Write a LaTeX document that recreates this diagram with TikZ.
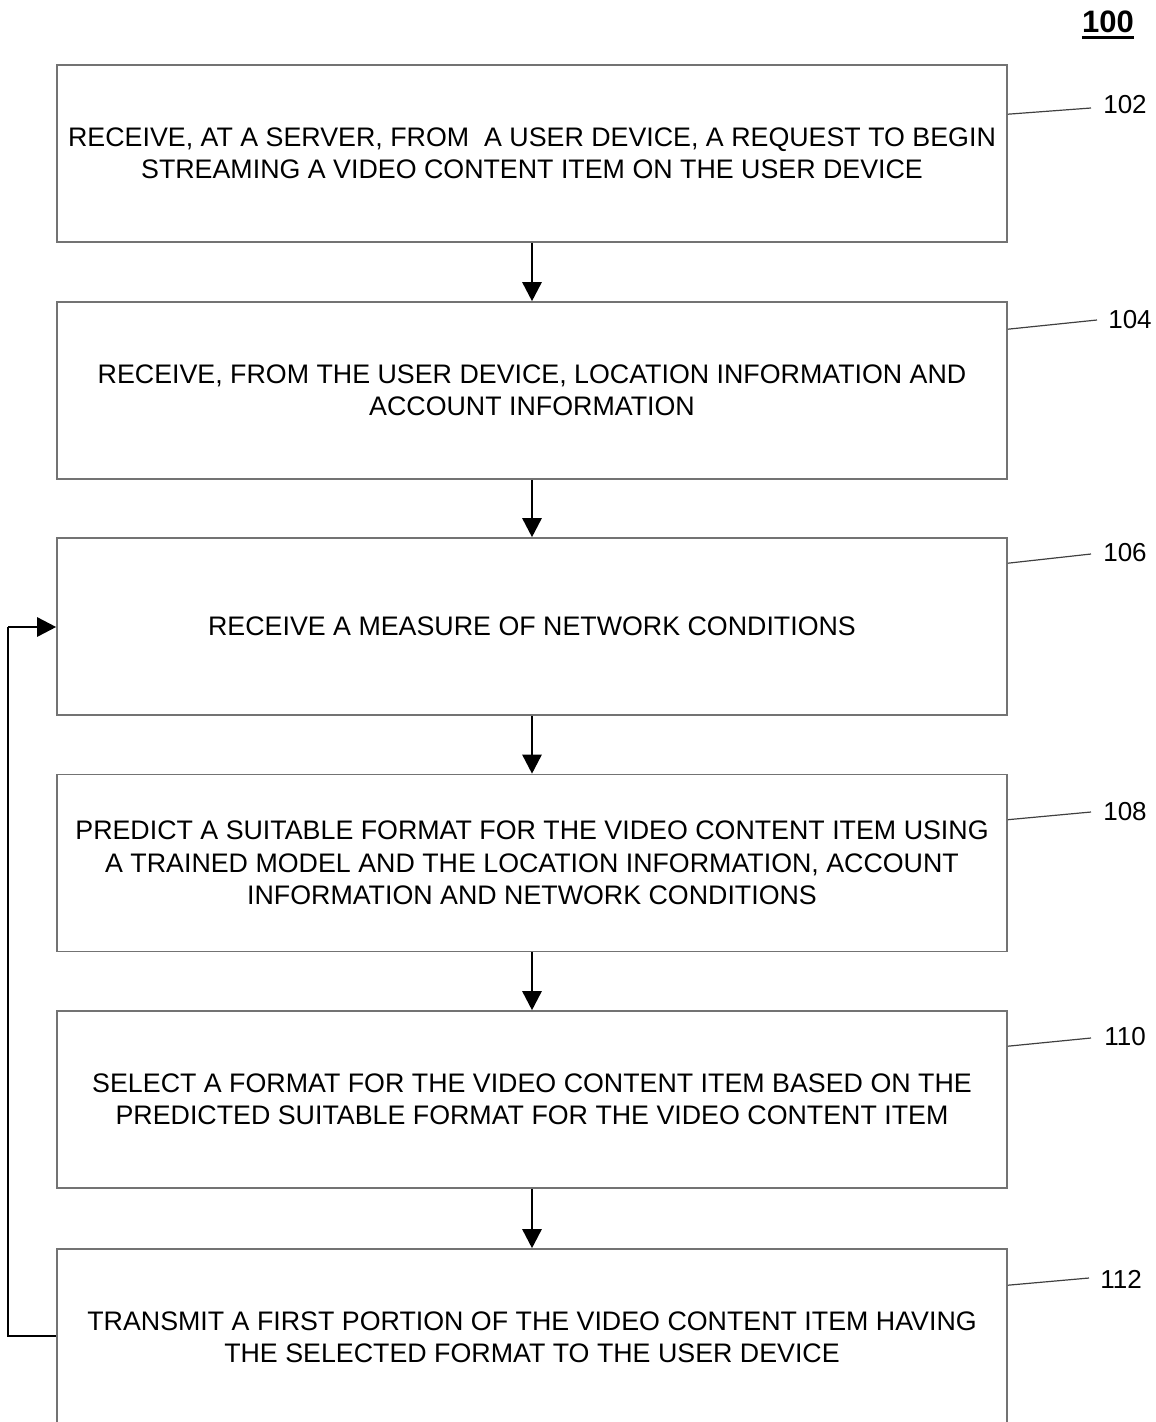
\documentclass[tikz,border=0pt]{standalone}
\usepackage{fontspec}
\setmainfont{Liberation Sans}
\usetikzlibrary{arrows.meta}
\begin{document}
\begin{tikzpicture}[x=1pt,y=-1pt,
  stepbox/.style={draw=black!55,line width=1.6pt,minimum width=950pt,minimum height=177pt,
    inner sep=0pt,align=center,font=\fontsize{26.8}{32.5}\selectfont},
  flow/.style={line width=2.6pt,-{Triangle[length=19pt,width=19pt]}},
  lead/.style={draw=black!75,line width=1.2pt},
  lbl/.style={inner sep=0pt,font=\fontsize{26}{28}\selectfont}]
\useasboundingbox (0,0) rectangle (1156,1422);
\node[stepbox] (b1) at (532,153.5) {RECEIVE, AT A SERVER, FROM\ \ A USER DEVICE, A REQUEST TO BEGIN\\STREAMING A VIDEO CONTENT ITEM ON THE USER DEVICE};
\node[stepbox] (b2) at (532,390.5) {RECEIVE, FROM THE USER DEVICE, LOCATION INFORMATION AND\\ACCOUNT INFORMATION};
\node[stepbox] (b3) at (532,626.5) {RECEIVE A MEASURE OF NETWORK CONDITIONS};
\node[stepbox] (b4) at (532,863) {PREDICT A SUITABLE FORMAT FOR THE VIDEO CONTENT ITEM USING\\A TRAINED MODEL AND THE LOCATION INFORMATION, ACCOUNT\\INFORMATION AND NETWORK CONDITIONS};
\node[stepbox] (b5) at (532,1099.5) {SELECT A FORMAT FOR THE VIDEO CONTENT ITEM BASED ON THE\\PREDICTED SUITABLE FORMAT FOR THE VIDEO CONTENT ITEM};
\node[stepbox] (b6) at (532,1337.5) {TRANSMIT A FIRST PORTION OF THE VIDEO CONTENT ITEM HAVING\\THE SELECTED FORMAT TO THE USER DEVICE};
\draw[flow] (b1) -- (b2);
\draw[flow] (b2) -- (b3);
\draw[flow] (b3) -- (b4);
\draw[flow] (b4) -- (b5);
\draw[flow] (b5) -- (b6);
\coordinate (fbl) at (8,1336);
\coordinate (fbu) at (8,627);
\draw[line width=2.6pt] (fbl -| b6.west) -- (fbl) -- (fbu);
\draw[flow] (fbu) -- (fbu -| b3.west);
\node[font=\fontsize{31}{33}\selectfont\bfseries,inner sep=0pt] (t100) at (1108,22) {100};
\draw[line width=2.6pt] ([yshift=-4.5pt]t100.south west) -- ([yshift=-4.5pt]t100.south east);
\node[lbl] (l102) at (1125,105) {102};
\node[lbl] (l104) at (1130,320) {104};
\node[lbl] (l106) at (1125,553) {106};
\node[lbl] (l108) at (1125,812) {108};
\node[lbl] (l110) at (1125,1037) {110};
\node[lbl] (l112) at (1121,1279) {112};
\coordinate (e102) at (1091,108);
\coordinate (e104) at (1097,320);
\coordinate (e106) at (1091,554);
\coordinate (e108) at (1091,812);
\coordinate (e110) at (1091,1038);
\coordinate (e112) at (1089,1278);
\draw[lead] ([yshift=-50pt]b1.north east) -- (e102);
\draw[lead] ([yshift=-28pt]b2.north east) -- (e104);
\draw[lead] ([yshift=-26pt]b3.north east) -- (e106);
\draw[lead] ([yshift=-46pt]b4.north east) -- (e108);
\draw[lead] ([yshift=-36pt]b5.north east) -- (e110);
\draw[lead] ([yshift=-37pt]b6.north east) -- (e112);
\end{tikzpicture}
\end{document}
